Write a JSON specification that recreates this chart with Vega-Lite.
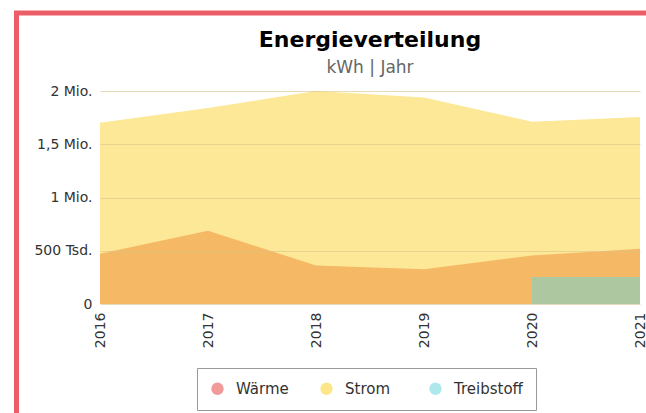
{
  "$schema": "https://vega.github.io/schema/vega-lite/v6.json",
  "autosize": {"type": "none"},
  "padding": {"left": 16.5, "top": 13, "right": 0, "bottom": 0},
  "width": 640,
  "height": 410,
  "background": "white",
  "config": {
    "font": "DejaVu Sans",
    "view": {"stroke": "#eb5e68", "strokeWidth": 5}
  },
  "title": {
    "text": "Energieverteilung",
    "subtitle": "kWh | Jahr",
    "anchor": "middle",
    "frame": "group",
    "dx": 33.5,
    "offset": -64,
    "fontSize": 22,
    "fontWeight": "bold",
    "color": "#000000",
    "subtitleFontSize": 17,
    "subtitleColor": "#666666",
    "subtitlePadding": 8
  },
  "data": {
    "values": [
      {"Jahr": 2016, "Energie": "Wärme", "kWh": 471000},
      {"Jahr": 2017, "Energie": "Wärme", "kWh": 688000},
      {"Jahr": 2018, "Energie": "Wärme", "kWh": 361000},
      {"Jahr": 2019, "Energie": "Wärme", "kWh": 327000},
      {"Jahr": 2020, "Energie": "Wärme", "kWh": 455000},
      {"Jahr": 2021, "Energie": "Wärme", "kWh": 518000},
      {"Jahr": 2016, "Energie": "Strom", "kWh": 1702000},
      {"Jahr": 2017, "Energie": "Strom", "kWh": 1840000},
      {"Jahr": 2018, "Energie": "Strom", "kWh": 2000000},
      {"Jahr": 2019, "Energie": "Strom", "kWh": 1938000},
      {"Jahr": 2020, "Energie": "Strom", "kWh": 1712000},
      {"Jahr": 2021, "Energie": "Strom", "kWh": 1755000},
      {"Jahr": 2020, "Energie": "Treibstoff", "kWh": 254000},
      {"Jahr": 2021, "Energie": "Treibstoff", "kWh": 254000}
    ]
  },
  "encoding": {
    "x": {
      "field": "Jahr",
      "type": "quantitative",
      "scale": {"domain": [2016, 2021], "range": [83.5, 623.5], "nice": false, "zero": false},
      "axis": {
        "values": [2016, 2017, 2018, 2019, 2020, 2021],
        "format": "d",
        "title": null,
        "grid": false,
        "domain": false,
        "ticks": false,
        "labelAngle": -90,
        "labelAlign": "right",
        "labelBaseline": "middle",
        "labelPadding": 8,
        "offset": -119,
        "labelFontSize": 14,
        "labelColor": "#333333",
        "labelOverlap": false
      }
    },
    "y": {
      "field": "kWh",
      "type": "quantitative",
      "stack": null,
      "scale": {"domain": [0, 2000000], "range": [291, 78], "nice": false},
      "axis": {
        "values": [0, 500000, 1000000, 1500000, 2000000],
        "labelExpr": "datum.value == 0 ? '0' : (datum.value < 1000000 ? format(datum.value / 1000, 'd') + ' Tsd.' : replace(format(datum.value / 1000000, '.1~f'), '.', ',') + ' Mio.')",
        "title": null,
        "domain": false,
        "ticks": false,
        "grid": true,
        "gridColor": "#d9c38a",
        "gridOpacity": 0.6,
        "zindex": 1,
        "labelPadding": 8,
        "offset": -83.5,
        "labelFontSize": 14,
        "labelColor": "#333333"
      }
    }
  },
  "layer": [
    {
      "transform": [{"filter": "datum.Energie == 'Strom'"}],
      "mark": {"type": "area", "color": "#fce897", "opacity": 1}
    },
    {
      "transform": [{"filter": "datum.Energie == 'Wärme'"}],
      "mark": {"type": "area", "color": "#f5b865", "opacity": 1}
    },
    {
      "transform": [{"filter": "datum.Energie == 'Treibstoff'"}],
      "mark": {"type": "area", "color": "#adc8a1", "opacity": 1}
    },
    {
      "mark": {"type": "point", "filled": true, "size": 0},
      "encoding": {
        "color": {
          "field": "Energie",
          "type": "nominal",
          "scale": {"domain": ["Wärme", "Strom", "Treibstoff"], "range": ["#f09a9a", "#fde68a", "#aee8ec"]},
          "legend": {
            "orient": "none",
            "legendX": 180.5,
            "legendY": 355,
            "direction": "horizontal",
            "title": null,
            "strokeColor": "#999999",
            "fillColor": "white",
            "padding": 13,
            "symbolType": "circle",
            "symbolSize": 154,
            "symbolStrokeWidth": 0,
            "symbolOpacity": 1,
            "labelFontSize": 15,
            "labelColor": "#333333",
            "labelOffset": 11,
            "columnPadding": 14,
            "gridAlign": "all"
          }
        }
      }
    }
  ]
}
